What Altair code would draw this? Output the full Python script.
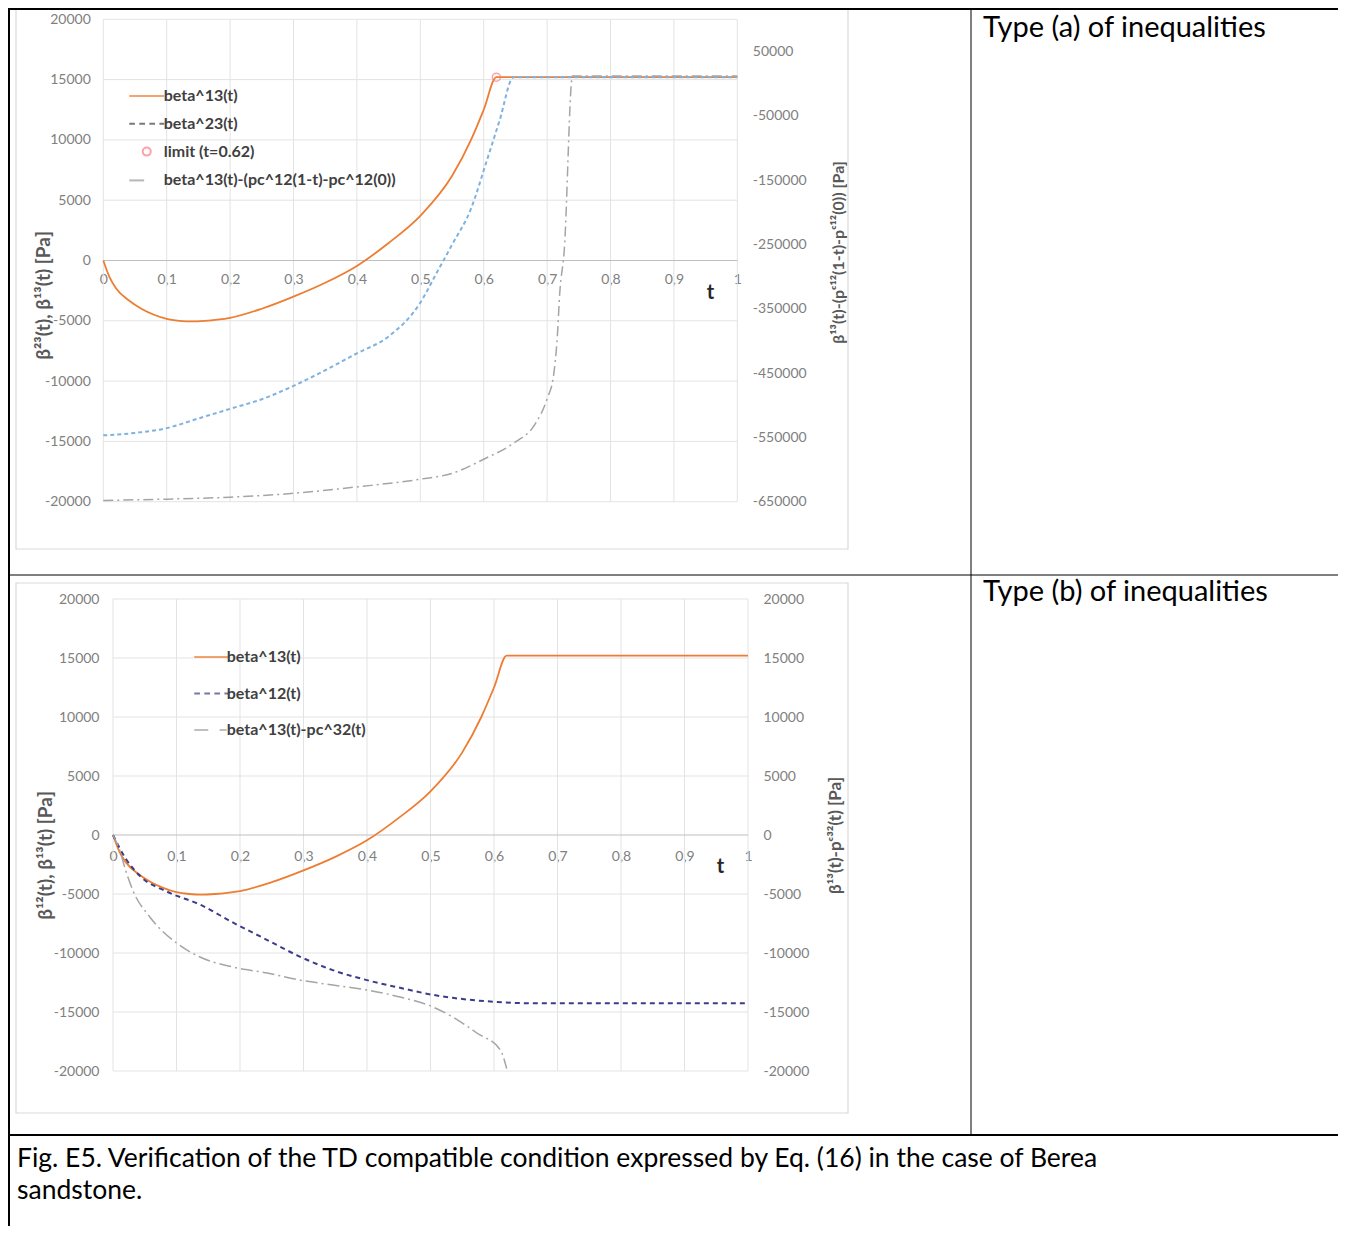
import altair as alt
import pandas as pd

# ---------------- data ----------------
# Type (a) panel
t_b13 = [0, 0.01, 0.02, 0.04, 0.06, 0.08, 0.10, 0.12, 0.14, 0.16, 0.18, 0.20, 0.25,
         0.30, 0.35, 0.40, 0.45, 0.50, 0.55, 0.58, 0.60, 0.62, 0.70, 0.80, 0.90, 1.00]
beta13 = [0, -1400, -2300, -3300, -4000, -4500, -4850, -5000, -5050, -5000, -4900, -4750, -4000,
          -3000, -1850, -450, 1450, 3700, 7000, 10000, 12500, 15200, 15200, 15200, 15200, 15200]

t_b23 = [0, 0.05, 0.10, 0.15, 0.20, 0.25, 0.30, 0.35, 0.40, 0.45, 0.50, 0.525, 0.55,
         0.58, 0.605, 0.625, 0.647, 0.70, 0.80, 0.90, 1.00]
beta23 = [-14500, -14300, -13900, -13100, -12300, -11500, -10400, -9100, -7700, -6300, -3500, -1100, 1300,
          4300, 8300, 11600, 15200, 15200, 15200, 15200, 15200]

t_diff_a = [0, 0.10, 0.20, 0.30, 0.40, 0.50, 0.55, 0.60, 0.65, 0.68, 0.70, 0.71, 0.716,
            0.72, 0.727, 0.74, 0.80, 0.90, 1.00]
diff_a = [-648000, -646000, -643000, -637000, -627000, -615000, -606000, -584000, -557000, -531000,
          -490000, -455000, -395000, -325000, -260000, 12000, 12000, 12000, 12000]

limit_t = [0.62]
limit_v = [15200]

# Type (b) panel
t_b12 = [0, 0.02, 0.043, 0.085, 0.137, 0.19, 0.243, 0.294, 0.346, 0.40, 0.452, 0.504, 0.535,
         0.605, 0.65, 0.70, 0.80, 0.90, 1.00]
beta12 = [0, -2000, -3500, -4800, -5900, -7450, -8900, -10300, -11450, -12300, -12950, -13550, -13800,
          -14150, -14250, -14250, -14250, -14250, -14250]

t_diff_b = [0, 0.01, 0.02, 0.031, 0.058, 0.10, 0.137, 0.189, 0.243, 0.294, 0.346, 0.40, 0.452,
            0.504, 0.535, 0.573, 0.61, 0.62]
diff_b = [0, -1200, -3000, -4660, -6950, -9150, -10340, -11190, -11700, -12290, -12710, -13140, -13730,
          -14580, -15420, -16780, -18220, -19800]

# tick values
t_ticks = [0, 0.1, 0.2, 0.3, 0.4, 0.5, 0.6, 0.7, 0.8, 0.9, 1.0]
left_ticks = [-20000, -15000, -10000, -5000, 0, 5000, 10000, 15000, 20000]
right_ticks_a = [-650000, -550000, -450000, -350000, -250000, -150000, -50000, 50000]

names_a = ["beta^13(t)", "beta^23(t)", "limit (t=0.62)", "beta^13(t)-(pc^12(1-t)-pc^12(0))"]
names_b = ["beta^13(t)", "beta^12(t)", "beta^13(t)-pc^32(t)"]

# ---------------- styling / layout ----------------
W, H = 1330, 1218
FONT = "Lato"
ORANGE = "#ED7D31"
BLUE = "#7EB2E0"
GRAY = "#A5A5A5"
NAVY = "#3C3C8C"
GRID = "#E3E3E3"
ZERO = "#BFBFBF"

SOLID = "M-2,0L2,0"
DASH = "M-2,0L-1.35,0M-0.85,0L-0.2,0M0.3,0L0.95,0M1.45,0L2,0"
DASHDOT_A = "M-2,0L-0.3,0"
DASHDOT_B = "M-2,0L-0.4,0M0.9,0L1.7,0"
CIRCLE = "M0.46,0A0.46,0.46,0,1,1,-0.46,0A0.46,0.46,0,1,1,0.46,0Z"


def sdf(ts, vs, name):
    return pd.DataFrame({"t": ts, "v": vs, "series": name})


df_b13 = sdf(t_b13, beta13, names_a[0])
df_b23 = sdf(t_b23, beta23, names_a[1])
df_lim = sdf(limit_t, limit_v, names_a[2])
df_da = sdf(t_diff_a, diff_a, names_a[3])
df_b13b = sdf(t_b13, beta13, names_b[0])
df_b12 = sdf(t_b12, beta12, names_b[1])
df_db = sdf(t_diff_b, diff_b, names_b[2])
df_tt = pd.DataFrame({"t": t_ticks})
df_lt = pd.DataFrame({"v": left_ticks})

# scales
XT = alt.Scale(domain=[0, 1], range=[95.3, 729.3], nice=False, zero=False)
YTL = alt.Scale(domain=[-20000, 20000], range=[493.7, 11.3], nice=False, zero=False)
YTR = alt.Scale(domain=[-650000, 100000], range=[493.7, 11.3], nice=False, zero=False)
XB = alt.Scale(domain=[0, 1], range=[105, 740], nice=False, zero=False)
YBL = alt.Scale(domain=[-20000, 20000], range=[1063, 591], nice=False, zero=False)
YBR = alt.Scale(domain=[-20000, 20000], range=[1063, 591], nice=False, zero=False)

XLABEL = "datum.value == 0 ? '0' : datum.value == 1 ? '1' : replace(format(datum.value, '.1f'), '.', ',')"


def x_axis(offset, tx, ty):
    return alt.Axis(orient="bottom", offset=offset, values=t_ticks, labelExpr=XLABEL,
                    labelPadding=14, labelFlush=False, labelOverlap=False,
                    domain=False, ticks=False, grid=False,
                    title="t", titleX=tx, titleY=ty, titleAngle=0, titleAlign="center",
                    titleBaseline="middle", titleFontSize=20, titleFontWeight="bold",
                    titleColor="#262626")


def y_axis(orient, offset, values, title, tx, ty, pad, size):
    return alt.Axis(orient=orient, offset=offset, values=values, labelExpr="'' + datum.value",
                    labelPadding=pad, labelFlush=False, labelOverlap=False,
                    domain=False, ticks=False, grid=False,
                    title=title, titleX=tx, titleY=ty, titleAngle=270, titleAlign="center",
                    titleBaseline="middle", titleFontSize=size, titleFontWeight="bold",
                    titleColor="#595959")


AX_XT = x_axis(-(H - 250), 702, 34)
AX_YTL = y_axis("left", -95.3, left_ticks, "β²³(t), β¹³(t) [Pa]", -60.3, 287, 13, 19)
AX_YTR = y_axis("right", -(W - 729.3), right_ticks_a, "β¹³(t)-(pᶜ¹²(1-t)-pᶜ¹²(0)) [Pa]", 100.7, 244, 15, 16)
AX_XB = x_axis(-(H - 827), 712, 31)
AX_YBL = y_axis("left", -105, left_ticks, "β¹²(t), β¹³(t) [Pa]", -68, 847, 14, 19)
AX_YBR = y_axis("right", -(W - 740), left_ticks, "β¹³(t)-pᶜ³²(t)  [Pa]", 87, 827, 15, 17)


def legend(x, y, rowpad, offset):
    return alt.Legend(orient="none", legendX=x, legendY=y, title=None, padding=0,
                      symbolSize=306, symbolStrokeWidth=2, labelFont=FONT, labelFontSize=16,
                      labelFontWeight="bold", labelColor="#404040", labelOffset=offset,
                      labelLimit=400, rowPadding=rowpad)


LEG_A = legend(128.75, 78, 9.8, 7)
LEG_B = legend(193.75, 639, 18.5, 5)


def grid_layers(xs, ys, ax_x, ax_y):
    v = alt.Chart(df_tt).mark_rule(color=GRID, strokeWidth=1).encode(
        x=alt.X("t:Q", scale=xs, axis=ax_x),
        y=alt.YDatum(-20000, type="quantitative", scale=ys, axis=ax_y),
        y2=alt.Y2Datum(20000),
    )
    h = alt.Chart(df_lt).mark_rule(strokeWidth=1).encode(
        y=alt.Y("v:Q", scale=ys, axis=ax_y),
        x=alt.XDatum(0, type="quantitative", scale=xs, axis=ax_x),
        x2=alt.X2Datum(1),
        color=alt.condition("datum.v == 0", alt.value(ZERO), alt.value(GRID)),
    )
    return [v, h]


def line(df, xs, ys, ax_x, ax_y, color, width, dash=None):
    kw = dict(color=color, strokeWidth=width, interpolate="monotone")
    if dash:
        kw["strokeDash"] = dash
    return alt.Chart(df).mark_line(**kw).encode(
        x=alt.X("t:Q", scale=xs, axis=ax_x),
        y=alt.Y("v:Q", scale=ys, axis=ax_y),
    )


# ---- panel (a)
limit_layer = alt.Chart(df_lim).mark_point(filled=False, size=306, strokeWidth=1.5).encode(
    x=alt.X("t:Q", scale=XT, axis=AX_XT),
    y=alt.Y("v:Q", scale=YTL, axis=AX_YTL),
    color=alt.Color("series:N", scale=alt.Scale(domain=names_a,
                    range=[ORANGE, "#404040", "#FF7C80", "#9A9A9A"]), legend=LEG_A),
    shape=alt.Shape("series:N", scale=alt.Scale(domain=names_a,
                    range=[SOLID, DASH, CIRCLE, DASHDOT_A]), legend=LEG_A),
)

top_left = alt.layer(
    *grid_layers(XT, YTL, AX_XT, AX_YTL),
    line(df_b13, XT, YTL, AX_XT, AX_YTL, ORANGE, 1.8),
    line(df_b23, XT, YTL, AX_XT, AX_YTL, BLUE, 2, [4, 3]),
    limit_layer,
)
top_right = line(df_da, XT, YTR, None, AX_YTR, GRAY, 1.5, [10, 4, 2, 4])

# ---- panel (b)
legend_b = alt.Chart(df_b13b).transform_filter("false").mark_point(filled=False, size=306).encode(
    x=alt.X("t:Q", scale=XB, axis=AX_XB),
    y=alt.Y("v:Q", scale=YBL, axis=AX_YBL),
    color=alt.Color("series:N", scale=alt.Scale(domain=names_b,
                    range=[ORANGE, NAVY, GRAY]), legend=LEG_B),
    shape=alt.Shape("series:N", scale=alt.Scale(domain=names_b,
                    range=[SOLID, DASH, DASHDOT_B]), legend=LEG_B),
)
bottom_left = alt.layer(
    *grid_layers(XB, YBL, AX_XB, AX_YBL),
    line(df_b13b, XB, YBL, AX_XB, AX_YBL, ORANGE, 1.8),
    line(df_b12, XB, YBL, AX_XB, AX_YBL, NAVY, 2, [5, 4]),
    legend_b,
)
bottom_right = line(df_db, XB, YBR, None, AX_YBR, GRAY, 1.5, [12, 4, 2, 4])

# ---- table decorations
ONE = alt.Data(values=[{}])


def frame(x1, y1, x2, y2):
    return alt.Chart(ONE).mark_rect(fillOpacity=0, stroke="#D9D9D9", strokeWidth=1.2).encode(
        x=alt.value(x1), x2=alt.value(x2), y=alt.value(y1), y2=alt.value(y2))


def hline(y, x1, x2, w):
    return alt.Chart(ONE).mark_rule(color="black", strokeWidth=w).encode(
        x=alt.value(x1), x2=alt.value(x2), y=alt.value(y))


def vline(x, y1, y2, w):
    return alt.Chart(ONE).mark_rule(color="black", strokeWidth=w).encode(
        x=alt.value(x), y=alt.value(y1), y2=alt.value(y2))


def text(txt, x, y, size):
    return alt.Chart(ONE).mark_text(text=txt, align="left", baseline="middle", font=FONT,
                                    fontSize=size, color="#000000").encode(
        x=alt.value(x), y=alt.value(y))


decor = [
    frame(8, -2, 840, 541),
    frame(8, 575, 840, 1105),
]
table = [
    hline(1, 0, W, 2),
    vline(1, 0, H, 2),
    vline(963, 0, 1127, 1),
    hline(567, 0, W, 1),
    hline(1127, 0, W, 2),
    text("Type (a) of inequalities", 975, 20, 29),
    text("Type (b) of inequalities", 975, 584, 29),
    text("Fig. E5. Verification of the TD compatible condition expressed by Eq. (16) in the case of Berea",
         9, 1151, 26.5),
    text("sandstone.", 9, 1183, 26.5),
]

chart = alt.layer(
    *decor, top_left, top_right, bottom_left, bottom_right, *table
).resolve_scale(
    x="independent", y="independent", color="independent", shape="independent"
).properties(
    width=W, height=H, autosize=alt.AutoSizeParams(type="none"), padding=0
).configure_view(
    strokeWidth=0
).configure_axis(
    labelFont=FONT, labelFontSize=14, labelColor="#808080", titleFont=FONT
)

chart.save("out.html", embed_options={"renderer": "svg", "actions": False})
